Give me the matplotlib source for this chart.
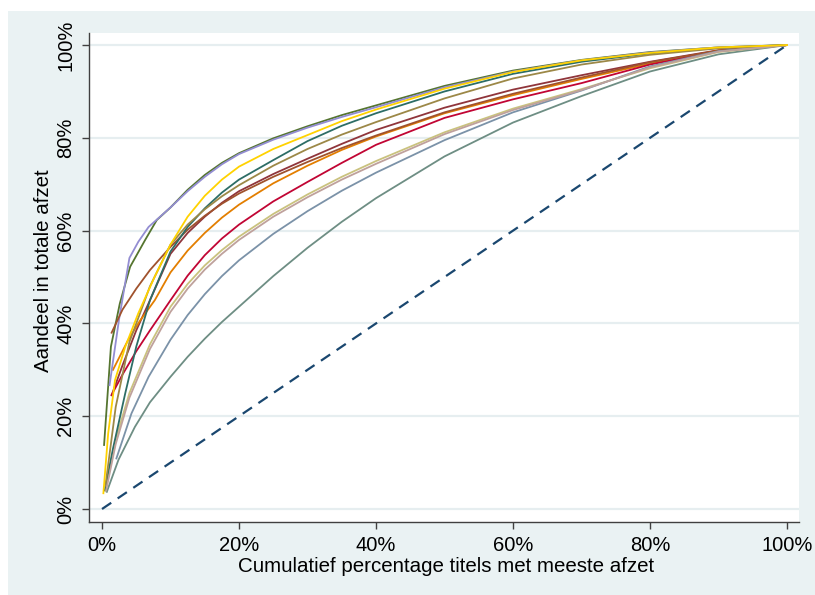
import matplotlib
matplotlib.use("Agg")
import matplotlib.pyplot as plt
from matplotlib.patches import Rectangle

plt.rcParams['font.family'] = ['Liberation Sans', 'DejaVu Sans']

# ---- data (percent of titles, percent of total sales) ----
tail_x = [10, 12.5, 15, 17.5, 20, 25, 30, 35, 40, 50, 60, 70, 80, 90, 100]

maroon_x = [1.4, 3, 5, 7] + tail_x
maroon_y = [24.5, 31, 38.5, 45,
            55, 59.5, 63, 66, 68.5, 72.2, 75.5, 78.7, 81.7, 86.5, 90.4, 93.5, 96.4, 98.9, 100]

green_x = [0.3, 1.3, 2.6, 4.1, 6.3, 8] + tail_x
green_y = [13.8, 35, 44.3, 52.2, 58, 62.3,
           65, 68.8, 72, 74.6, 76.7, 79.9, 82.5, 84.9, 87, 91.2, 94.5, 96.8, 98.5, 99.5, 100]

orange_x = [1.6, 3.8, 5.5, 7.7] + tail_x
orange_y = [30, 36.4, 40.5, 45,
            51, 55.7, 59.5, 62.8, 65.6, 70.2, 74, 77.4, 80.3, 85.3, 89.2, 92.7, 96, 98.8, 100]

teal_x = [0.7, 2.4, 4.8, 7] + tail_x
teal_y = [3.7, 10.6, 17.7, 23,
          28.5, 32.8, 36.7, 40.3, 43.6, 50.2, 56.3, 61.9, 67, 76, 83.3, 89, 94.3, 98, 100]

cranberry_x = [1.4, 3, 5, 7] + tail_x
cranberry_y = [24.6, 29, 34, 38.5,
               45, 50.3, 54.7, 58.3, 61.3, 66.3, 70.5, 74.6, 78.5, 84.3, 88.3, 91.8, 95.8, 98.7, 100]

lavender_x = [1.1, 2.5, 4.0, 5.3, 6.8] + tail_x
lavender_y = [26.7, 41, 54.1, 57.6, 60.8,
              65, 68.5, 71.6, 74.3, 76.5, 79.6, 82.2, 84.5, 86.6, 90.9, 94.3, 96.7, 98.4, 99.5, 100]

khaki_x = [0.5, 2, 4, 7] + tail_x
khaki_y = [4, 15, 25, 35.5,
           43.6, 48.5, 52.5, 55.8, 58.7, 63.6, 67.8, 71.6, 75, 81.2, 86.3, 90.5, 95, 98.5, 100]

sienna_x = [1.4, 3, 5, 7] + tail_x
sienna_y = [38, 43, 47.5, 51.5,
            56.5, 60.2, 63.2, 65.8, 68, 71.6, 74.8, 77.8, 80.5, 85.5, 89.5, 93, 96.3, 98.8, 100]

emidblue_x = [2.1, 4.3, 6.8] + tail_x
emidblue_y = [10.9, 20.6, 28.5,
              36.5, 41.8, 46.3, 50.2, 53.6, 59.3, 64.2, 68.6, 72.5, 79.5, 85.5, 90.2, 95.4, 98.7, 100]

emerald_x = [0.4, 1.6, 3.4, 5, 7] + tail_x
emerald_y = [4, 13, 25, 35, 45,
             55.5, 60.8, 64.8, 68.2, 71, 75.2, 79.3, 82.6, 85.3, 90, 93.8, 96.4, 98.2, 99.4, 100]

brown_x = [0.5, 2, 4, 7] + tail_x
brown_y = [5, 22, 36, 48,
           57, 61.3, 64.6, 67.4, 69.8, 74, 77.6, 80.7, 83.4, 88.5, 92.8, 95.8, 97.9, 99.3, 100]

erose_x = [0.6, 2, 4, 7] + tail_x
erose_y = [4, 14, 24, 34.5,
           42.5, 47.5, 51.6, 55, 58, 63, 67.2, 71, 74.4, 80.8, 86, 90.3, 95.2, 98.6, 100]

gold_x = [0.2, 0.9, 1.9, 3.4, 5.3, 7.7] + tail_x
gold_y = [3.4, 16.3, 27.8, 35, 42.2, 50.1,
          57, 63, 67.5, 71, 73.8, 77.6, 80.6, 83.6, 86.1, 90.6, 94.2, 96.7, 98.3, 99.5, 100]

diag_x = [0, 100]
diag_y = [0, 100]

ticks = [0, 20, 40, 60, 80, 100]
tick_labels = ["0%", "20%", "40%", "60%", "80%", "100%"]

# ---- figure ----
fig = plt.figure(figsize=(8.15, 5.95), dpi=100, facecolor='white')
fig.patches.append(Rectangle((8/815, 0), 1 - 8/815, (595-11)/595,
                             transform=fig.transFigure, facecolor='#eaf2f3',
                             edgecolor='none', zorder=-10))

ax = fig.add_axes([89/815, (595-522)/595, (799-89)/815, (522-33)/595])
ax.set_zorder(5)
ax.set_facecolor('white')

for yv in ticks:
    ax.axhline(yv, color='#e6eef0', lw=1.6, zorder=1)

ax.plot(diag_x, diag_y, color='#1a476f', lw=1.6, dashes=(5, 3.5), zorder=2)

series = [
    (maroon_x, maroon_y, '#90353b'),
    (green_x, green_y, '#55752f'),
    (orange_x, orange_y, '#e37e00'),
    (teal_x, teal_y, '#6e8e84'),
    (cranberry_x, cranberry_y, '#c10534'),
    (lavender_x, lavender_y, '#938dd2'),
    (khaki_x, khaki_y, '#cac27e'),
    (sienna_x, sienna_y, '#a0522d'),
    (emidblue_x, emidblue_y, '#7b92a8'),
    (emerald_x, emerald_y, '#2d6d66'),
    (brown_x, brown_y, '#9c8847'),
    (erose_x, erose_y, '#bfa19c'),
    (gold_x, gold_y, '#ffd200'),
]
for i, (xs, ys, c) in enumerate(series):
    ax.plot(xs, ys, color=c, lw=1.3, zorder=3 + i, solid_joinstyle='round')

ax.set_xlim(-1.9, 101.75)
ax.set_ylim(-2.8, 102.6)
ax.set_xticks(ticks)
ax.set_xticklabels(tick_labels)
ax.set_yticks(ticks)
ax.set_yticklabels(tick_labels, rotation=90, va='center')

for s in ['top', 'right']:
    ax.spines[s].set_visible(False)
for s in ['left', 'bottom']:
    ax.spines[s].set_color('#404040')
    ax.spines[s].set_linewidth(1.0)

ax.tick_params(axis='both', direction='out', length=5, width=1.0, color='#404040',
               labelsize=14.5, pad=5, labelcolor='black')

fig.text(446/815, 29/595, "Cumulatief percentage titels met meeste afzet",
         ha='center', va='center', fontsize=14.8)
fig.text(44/815, (595-271)/595, "Aandeel in totale afzet",
         ha='center', va='center', rotation=90, fontsize=14.8)

fig.savefig("out.png", dpi=100, facecolor=fig.get_facecolor())
